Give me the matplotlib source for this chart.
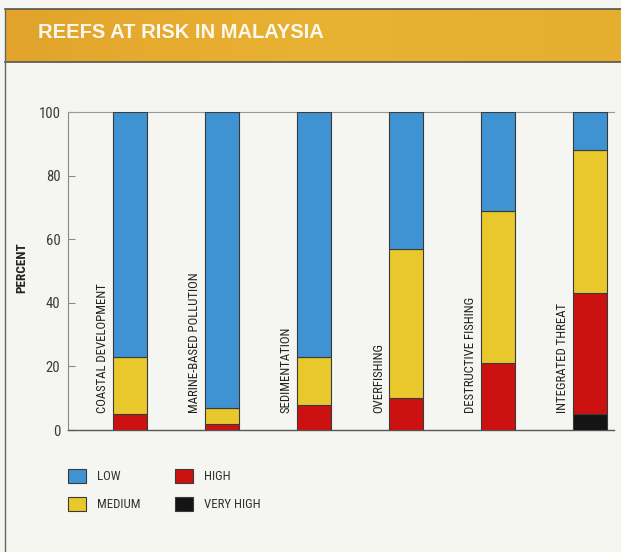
import matplotlib
matplotlib.use("Agg")
import matplotlib.pyplot as plt
import numpy as np
from matplotlib.patches import Rectangle
from matplotlib.lines import Line2D
from matplotlib.colors import LinearSegmentedColormap

categories = ["COASTAL DEVELOPMENT", "MARINE-BASED POLLUTION", "SEDIMENTATION",
              "OVERFISHING", "DESTRUCTIVE FISHING", "INTEGRATED THREAT"]
very_high = [0, 0, 0, 0, 0, 5]
high = [5, 2, 8, 10, 21, 38]
medium = [18, 5, 15, 47, 48, 45]
low = [77, 93, 77, 43, 31, 12]
yticks = [0, 20, 40, 60, 80, 100]
title = "REEFS AT RISK IN MALAYSIA"
legend_labels = ["LOW", "MEDIUM", "HIGH", "VERY HIGH"]

c_low = "#3f93d3"
c_med = "#e8c82c"
c_high = "#cc1111"
c_vh = "#141414"
edge = "#3a3a3a"
bg = "#f5f6f1"

plt.rcParams['font.family'] = ['Roboto Condensed', 'Liberation Sans', 'DejaVu Sans']

W, H = 621, 552
fig = plt.figure(figsize=(W / 100, H / 100), dpi=100)
fig.patch.set_facecolor(bg)

def fx(px):
    return px / W

def fy(py):
    return 1 - py / H

# Header band with gradient
hax = fig.add_axes([fx(5), fy(62), fx(621) - fx(5), fy(9) - fy(62)])
grad = np.linspace(0, 1, 256).reshape(1, -1)
cmap = LinearSegmentedColormap.from_list("hdr", ["#e2a42c", "#e9b232", "#e6ae2e"])
hax.imshow(grad, aspect="auto", cmap=cmap, extent=[0, 1, 0, 1])
hax.set_xlim(0, 1)
hax.set_ylim(0, 1)
hax.axis("off")
hax.text(33 / 616, 0.56, title, color="white", fontsize=14.5, fontweight="bold",
         family=['Liberation Sans', 'DejaVu Sans'],
         va="center", ha="left", transform=hax.transAxes, alpha=0.92)

# Frame lines
fig.add_artist(Line2D([fx(5), fx(621)], [fy(9), fy(9)], color="#555550", lw=1.2))
fig.add_artist(Line2D([fx(5), fx(621)], [fy(62), fy(62)], color="#555550", lw=1.2))
fig.add_artist(Line2D([fx(5), fx(5)], [fy(9), fy(552)], color="#666660", lw=1.0))

# Main axes
ax = fig.add_axes([fx(68), fy(430), fx(614) - fx(68), fy(112) - fy(430)])
ax.set_facecolor("none")
x = np.arange(len(categories))
width = 0.37
bottoms = np.zeros(len(categories))
for vals, col in [(very_high, c_vh), (high, c_high), (medium, c_med), (low, c_low)]:
    ax.bar(x, vals, width, bottom=bottoms, color=col, edgecolor=edge, linewidth=0.8, zorder=3)
    bottoms += np.array(vals)

ax.set_xlim(-0.674, 5.26)
ax.set_ylim(0, 100)
ax.set_yticks(yticks)
ax.set_yticklabels([str(t) for t in yticks], fontsize=10.5, color="#3a3a3a")
ax.tick_params(axis="y", direction="in", length=5, width=0.8, color="#888888", pad=5.5)
ax.set_xticks([])
ax.spines["right"].set_visible(False)
ax.spines["left"].set_color("#888888")
ax.spines["top"].set_color("#999999")
ax.spines["bottom"].set_color("#555555")
ax.spines["left"].set_linewidth(0.8)
ax.spines["top"].set_linewidth(0.8)
ax.spines["bottom"].set_linewidth(1.0)

for i, cat in enumerate(categories):
    ax.text(i - 0.30, 5.5, cat, rotation=90, ha="center", va="bottom",
            fontsize=9.2, color="#222222", zorder=4)

fig.text(fx(22), fy(268), "PERCENT", rotation=90, ha="center", va="center",
         fontsize=9.5, fontweight="bold", color="#222222")

# Legend
leg_items = [(68, 476, c_low, "LOW"), (68, 504, c_med, "MEDIUM"),
             (175, 476, c_high, "HIGH"), (175, 504, c_vh, "VERY HIGH")]
for px, py, col, lab in leg_items:
    r = Rectangle((fx(px), fy(py + 7)), fx(18), 14 / H, transform=fig.transFigure,
                  facecolor=col, edgecolor=edge, linewidth=0.8)
    fig.add_artist(r)
    fig.text(fx(px + 29), fy(py), lab, ha="left", va="center", fontsize=9.3, color="#333333")

fig.savefig("out.png", dpi=100, facecolor=bg)
